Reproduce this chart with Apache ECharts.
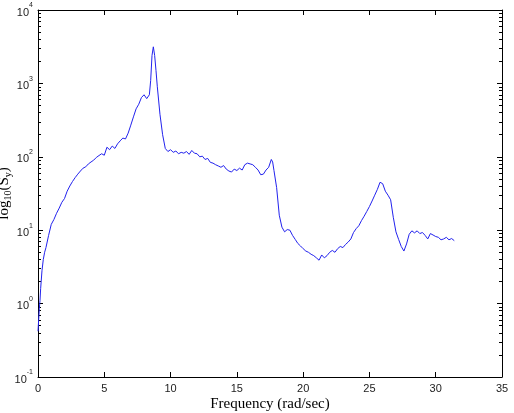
<!DOCTYPE html>
<html>
<head>
<meta charset="utf-8">
<script src="https://cdn.jsdelivr.net/npm/echarts@6/dist/echarts.min.js"></script>
<style>
  html, body { margin: 0; padding: 0; background: #fff; }
  #chart { width: 514px; height: 413px; }
</style>
</head>
<body>
<div id="chart"></div>
<script>
// frequency (rad/sec)
const freq = [
  0.0, 0.05, 0.1, 0.15, 0.2, 0.3, 0.4, 0.5, 0.6, 0.8,
  1.0, 1.2, 1.4, 1.6, 1.8, 2.0, 2.2, 2.4, 2.6, 2.8,
  3.0, 3.2, 3.4, 3.6, 3.8, 4.0, 4.2, 4.4, 4.6, 4.8,
  5.0, 5.2, 5.4, 5.6, 5.8, 6.0, 6.2, 6.4, 6.6, 6.8,
  7.0, 7.2, 7.4, 7.6, 7.8, 8.0, 8.2, 8.4, 8.5, 8.6,
  8.7, 8.8, 8.9, 9.0, 9.2, 9.4, 9.6, 9.8, 10.0, 10.2,
  10.4, 10.6, 10.8, 11.0, 11.2, 11.4, 11.6, 11.8, 12.0, 12.2,
  12.4, 12.6, 12.8, 13.0, 13.2, 13.4, 13.6, 13.8, 14.0, 14.2,
  14.4, 14.6, 14.8, 15.0, 15.2, 15.4, 15.6, 15.8, 16.0, 16.2,
  16.4, 16.6, 16.8, 17.0, 17.2, 17.4, 17.6, 17.7, 17.8, 18.0,
  18.2, 18.4, 18.6, 18.8, 19.0, 19.2, 19.4, 19.6, 19.8, 20.0,
  20.2, 20.4, 20.6, 20.8, 21.0, 21.2, 21.4, 21.6, 21.8, 22.0,
  22.2, 22.4, 22.6, 22.8, 23.0, 23.2, 23.4, 23.6, 23.8, 24.0,
  24.2, 24.4, 24.6, 24.8, 25.0, 25.2, 25.4, 25.6, 25.8, 25.9,
  26.0, 26.2, 26.4, 26.6, 26.8, 27.0, 27.2, 27.4, 27.6, 27.8,
  28.0, 28.2, 28.4, 28.6, 28.8, 29.0, 29.2, 29.4, 29.6, 29.8,
  30.0, 30.2, 30.4, 30.6, 30.8, 31.0, 31.2, 31.4
];
// spectrum Sy
const spectrum = [
  0.42, 0.6, 0.85, 1.1, 1.6, 2.8, 4.0, 5.0, 5.8, 8.5,
  12, 14, 17, 20, 24, 27, 34, 40, 46, 52,
  58, 64, 70, 73, 80, 85, 90, 98, 104, 110,
  105, 135, 125, 140, 130, 150, 165, 180, 175, 210,
  270, 350, 450, 520, 640, 700, 620, 700, 1100, 2400,
  3150, 2400, 1500, 900, 380, 200, 130, 118, 125, 115,
  120, 110, 115, 112, 118, 108, 122, 112, 110, 100,
  102, 92, 95, 84, 82, 78, 75, 72, 76, 68,
  64, 62, 68, 65, 70, 66, 78, 82, 80, 78,
  72, 66, 57, 58, 66, 72, 92, 85, 65, 38,
  16, 11, 9.5, 10.2, 10, 8.5, 7.5, 6.6, 6.1, 5.6,
  5.2, 5.0, 4.7, 4.5, 4.2, 3.9, 4.6, 4.2, 4.5, 5.0,
  5.3, 5.0, 5.6, 6.0, 5.8, 6.4, 6.9, 7.6, 9.3, 10.5,
  11.5, 13.5, 15.5, 18, 21, 25, 30, 36, 45, 47,
  43, 34, 30, 26, 15, 9.5, 7.5, 6.0, 5.2, 6.5,
  8.8, 9.8, 9.2, 9.8, 9.0, 9.3, 8.5, 7.6, 9.0, 8.6,
  8.2, 8.0, 7.4, 7.6, 8.0, 7.4, 7.7, 7.2
];
const xTicks = [0, 5, 10, 15, 20, 25, 30, 35];

const chart = echarts.init(document.getElementById('chart'));

const axisLine = { show: true, onZero: false, lineStyle: { color: '#000', width: 1 } };
const tickLabel = { color: '#222', fontSize: 11, fontFamily: 'Liberation Sans' };
const supRich = {
  base: { fontSize: 11, fontFamily: 'Liberation Sans', color: '#222', lineHeight: 16, verticalAlign: 'bottom' },
  sup: { fontSize: 7, fontFamily: 'Liberation Sans', color: '#222', lineHeight: 16, verticalAlign: 'top' }
};

const yCommon = {
  type: 'log',
  min: 0.1,
  max: 10000,
  logBase: 10,
  axisLine: axisLine,
  axisTick: { show: true, inside: true, length: 5, lineStyle: { color: '#000' } },
  minorTick: { show: true, splitNumber: 9, length: 3, lineStyle: { color: '#000' } },
  splitLine: { show: false }
};

chart.setOption({
  backgroundColor: '#fff',
  animation: false,
  grid: { left: 38, right: 12, top: 10, bottom: 36, containLabel: false, outerBoundsMode: 'none' },
  xAxis: [
    {
      type: 'value',
      min: 0,
      max: 35,
      interval: 5,
      position: 'bottom',
      axisLine: axisLine,
      axisTick: { show: true, inside: true, length: 5, lineStyle: { color: '#000' } },
      axisLabel: Object.assign({ margin: 6, formatter: (v) => xTicks.includes(v) ? String(v) : '' }, tickLabel),
      splitLine: { show: false },
      name: 'Frequency (rad/sec)',
      nameLocation: 'middle',
      nameGap: 20,
      nameMoveOverlap: false,
      nameTextStyle: { fontFamily: 'Liberation Serif', fontSize: 15, color: '#000' }
    },
    {
      type: 'value',
      min: 0,
      max: 35,
      interval: 5,
      position: 'top',
      axisLine: axisLine,
      axisTick: { show: true, inside: true, length: 5, lineStyle: { color: '#000' } },
      axisLabel: { show: false },
      splitLine: { show: false }
    }
  ],
  yAxis: [
    Object.assign({}, yCommon, {
      position: 'left',
      axisLabel: {
        margin: 5,
        formatter: (v) => '{base|10}{sup|' + Math.round(Math.log10(v)) + '}',
        rich: supRich
      },
      name: 'log{sub|10}(S{sub|y})',
      nameLocation: 'middle',
      nameGap: 25,
      nameMoveOverlap: false,
      nameTextStyle: {
        fontFamily: 'Liberation Serif', fontSize: 15, color: '#000',
        rich: {
          sub: { fontFamily: 'Liberation Serif', fontSize: 10, color: '#000', verticalAlign: 'bottom', lineHeight: 18 }
        }
      }
    }),
    Object.assign({}, yCommon, {
      position: 'right',
      axisLabel: { show: false }
    })
  ],
  series: [
    {
      type: 'line',
      xAxisIndex: 0,
      yAxisIndex: 0,
      data: freq.map((f, i) => [f, spectrum[i]]),
      showSymbol: false,
      symbol: 'none',
      lineStyle: { color: '#2222ee', width: 1 }
    }
  ]
});
</script>
</body>
</html>
